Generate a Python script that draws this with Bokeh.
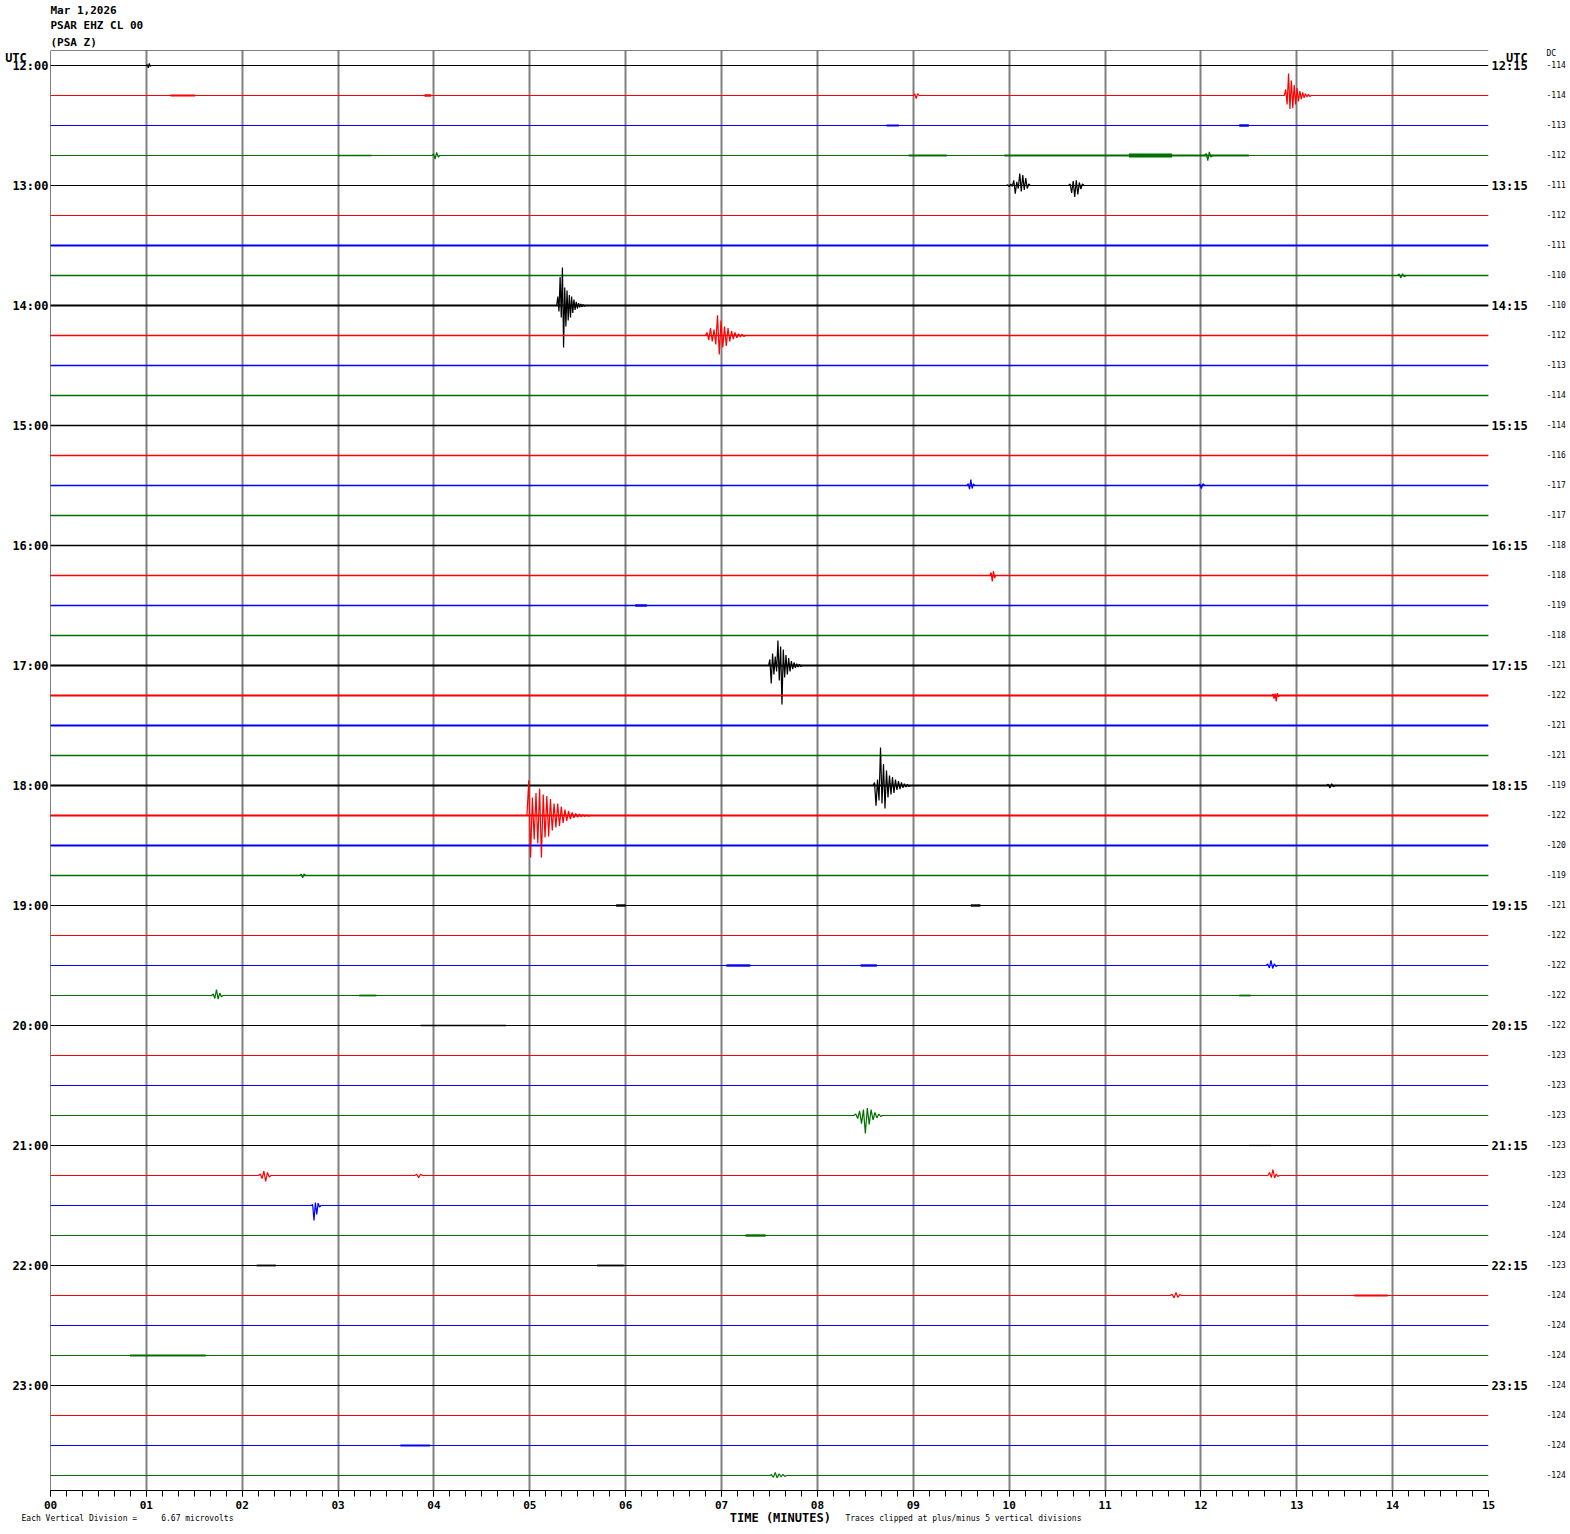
from bokeh.plotting import figure
from bokeh.models import Range1d, FixedTicker, LinearAxis, Span, ColumnDataSource, Title
from bokeh.embed import file_html
from bokeh.resources import INLINE

# ---------------- data ----------------
header_lines = ["Mar 1,2026", "PSAR EHZ CL 00", "(PSA Z)"]
trace_colors = ["#000000", "#ff0000", "#0000ff", "#006f00"]
left_hours = ["12:00", "13:00", "14:00", "15:00", "16:00", "17:00",
              "18:00", "19:00", "20:00", "21:00", "22:00", "23:00"]
right_hours = ["12:15", "13:15", "14:15", "15:15", "16:15", "17:15",
               "18:15", "19:15", "20:15", "21:15", "22:15", "23:15"]
minute_labels = ["00", "01", "02", "03", "04", "05", "06", "07",
                 "08", "09", "10", "11", "12", "13", "14", "15"]
dc_values = [-114, -114, -113, -112, -111, -112, -111, -110, -110, -112, -113, -114,
             -114, -116, -117, -117, -118, -118, -119, -118, -121, -122, -121, -121,
             -119, -122, -120, -119, -121, -122, -122, -122, -122, -123, -123, -123,
             -123, -123, -124, -124, -123, -124, -124, -124, -124, -124, -124, -124]
x_title = "TIME (MINUTES)"
footnote_left = "Each Vertical Division =\u00a0\u00a0\u00a0\u00a0\u00a06.67 microvolts"
footnote_right = "Traces clipped at plus/minus 5 vertical divisions"
# background noise half-width of each trace (trace-spacing units)
noise_level = [0, 0, 0, 0, 0, 0.006,
               0.03, 0.026, 0.03, 0.026, 0.026, 0.022, 0.026, 0.022, 0.022, 0.022, 0.026,
               0.022, 0.022, 0.022, 0.03, 0.03, 0.03, 0.026, 0.03, 0.03, 0.033, 0.026,
               0, 0, 0.006, 0, 0, 0, 0, 0, 0, 0, 0, 0, 0, 0, 0.018, 0, 0, 0, 0, 0]
# noise bursts: (trace, start minute, end minute, half-width)
bursts = [
    (1, 1.25, 1.51, 0.03), (1, 3.90, 3.97, 0.04),
    (2, 8.72, 8.85, 0.03), (2, 12.40, 12.50, 0.04), (2, 12.95, 13.40, 0.02),
    (3, 3.00, 3.35, 0.025), (3, 8.95, 9.35, 0.03), (3, 9.95, 12.50, 0.03), (3, 11.25, 11.70, 0.065),
    (4, 9.30, 10.90, 0.015),
    (18, 6.10, 6.22, 0.04),
    (28, 5.90, 6.00, 0.04), (28, 9.60, 9.70, 0.04),
    (30, 7.05, 7.30, 0.04), (30, 8.45, 8.62, 0.04),
    (31, 3.22, 3.40, 0.03), (31, 12.40, 12.52, 0.03),
    (32, 1.10, 1.56, 0.02), (32, 3.86, 4.75, 0.025),
    (33, 1.67, 1.98, 0.02), (33, 9.20, 10.10, 0.02), (33, 14.00, 14.60, 0.02),
    (34, 4.75, 5.15, 0.02), (34, 9.50, 9.85, 0.02),
    (36, 12.50, 12.75, 0.02),
    (39, 7.25, 7.46, 0.04),
    (40, 2.15, 2.35, 0.03), (40, 5.70, 5.98, 0.03),
    (41, 13.60, 13.95, 0.03),
    (43, 0.83, 1.62, 0.03),
    (46, 3.65, 3.96, 0.035),
]
# wave trains: (trace, start minute, end minute, signed amplitudes)
events = [
    (0, 1.00, 1.05, [0.03, -0.08, 0.07, -0.03]),
    (1, 9.00, 9.06, [0.05, -0.10, 0.06]),
    (1, 12.87, 13.15, [0.20, -0.30, 0.73, -0.45, 0.50, -0.42, 0.35, -0.30, 0.25, -0.20,
                       0.15, -0.12, 0.10, -0.08, 0.06, -0.05, 0.04, -0.03]),
    (3, 3.98, 4.06, [0.05, -0.12, 0.10, -0.05]),
    (3, 12.04, 12.12, [0.06, -0.17, 0.12, -0.05]),
    (4, 9.97, 10.22, [0.02, -0.04, 0.05, -0.03, 0.17, -0.27, 0.12, -0.10, 0.40, -0.20,
                      0.35, -0.15, 0.25, -0.10, 0.05]),
    (4, 10.62, 10.78, [0.05, -0.25, 0.15, -0.38, 0.17, -0.30, 0.10, -0.12, 0.05]),
    (7, 14.05, 14.14, [0.05, -0.08, 0.06, -0.04]),
    (8, 5.28, 5.58, [0.30, -0.20, 0.95, -0.40, 1.27, -1.40, 0.60, -0.70, 0.50, -0.50,
                     0.35, -0.40, 0.30, -0.25, 0.20, -0.15, 0.12, -0.10, 0.08, -0.06,
                     0.05, -0.04, 0.03, -0.02]),
    (9, 6.83, 7.25, [0.10, -0.15, 0.25, -0.20, 0.20, -0.30, 0.67, -0.63, 0.50, -0.40,
                     0.30, -0.35, 0.25, -0.20, 0.15, -0.12, 0.10, -0.08, 0.06, -0.05,
                     0.04, -0.03]),
    (14, 9.56, 9.64, [0.06, -0.12, 0.20, -0.10, 0.05]),
    (14, 11.97, 12.04, [0.04, -0.10, 0.06]),
    (17, 9.80, 9.86, [0.10, -0.20, 0.15, -0.08]),
    (20, 7.49, 7.84, [0.20, -0.60, 0.40, -0.30, 0.30, -0.20, 0.83, -0.50, 0.63, -1.30,
                      0.53, -0.40, 0.35, -0.30, 0.25, -0.20, 0.15, -0.12, 0.10, -0.08,
                      0.06, -0.05, 0.04, -0.03]),
    (21, 12.74, 12.82, [0.05, -0.10, 0.06, -0.20, 0.08, -0.04]),
    (24, 8.58, 8.97, [0.10, -0.67, 0.20, -0.50, 1.27, -0.60, 0.72, -0.77, 0.50, -0.40,
                      0.33, -0.30, 0.28, -0.25, 0.20, -0.15, 0.15, -0.12, 0.10, -0.08,
                      0.06, -0.05, 0.04, -0.03]),
    (24, 13.31, 13.40, [0.04, -0.08, 0.06, -0.04]),
    (25, 4.97, 5.63, [1.17, -1.40, 0.60, -0.80, 0.75, -0.93, 0.90, -1.40, 0.70, -0.73,
                      0.65, -0.70, 0.55, -0.50, 0.40, -0.40, 0.40, -0.35, 0.30, -0.25,
                      0.20, -0.18, 0.15, -0.12, 0.10, -0.08, 0.07, -0.06, 0.05, -0.04,
                      0.03, -0.03, 0.02, -0.02]),
    (27, 2.60, 2.66, [0.04, -0.08, 0.05]),
    (30, 12.68, 12.80, [0.05, -0.08, 0.17, -0.10, 0.06, -0.03]),
    (31, 1.68, 1.80, [0.05, -0.10, 0.20, -0.12, 0.08, -0.04]),
    (35, 8.38, 8.68, [0.05, -0.10, 0.15, -0.27, 0.20, -0.60, 0.25, -0.30, 0.20, -0.15,
                      0.10, -0.08, 0.05, -0.03]),
    (37, 2.17, 2.30, [0.05, -0.10, 0.15, -0.20, 0.10, -0.05]),
    (37, 3.80, 3.88, [0.04, -0.07, 0.04]),
    (37, 12.70, 12.82, [0.10, -0.07, 0.20, -0.08, 0.05, -0.03]),
    (38, 2.72, 2.82, [0.03, -0.50, 0.10, -0.30, 0.08, -0.05]),
    (41, 11.68, 11.80, [0.04, -0.08, 0.10, -0.06, 0.03]),
    (47, 7.50, 7.68, [0.03, -0.06, 0.10, -0.08, 0.06, -0.05, 0.04, -0.03]),
]

n_rows = len(dc_values)
t_end = float(len(minute_labels) - 1)

# ---------------- build glyph data ----------------
line_xs, line_ys, line_cols = [], [], []
for k in range(n_rows):
    base = -k
    xs, ys = [0.0], [base]
    for (row, t0, t1, amps) in sorted([e for e in events if e[0] == k], key=lambda e: e[1]):
        xs.append(t0); ys.append(base)
        n = len(amps)
        for i, a in enumerate(amps):
            xs.append(t0 + (t1 - t0) * (i + 1) / (n + 1))
            ys.append(base + a)
        xs.append(t1); ys.append(base)
    xs.append(t_end); ys.append(base)
    line_xs.append(xs); line_ys.append(ys)
    line_cols.append(trace_colors[k % 4])

q = dict(left=[], right=[], bottom=[], top=[], color=[])
for k, h in enumerate(noise_level):
    if h > 0:
        q["left"].append(0.0); q["right"].append(t_end)
        q["bottom"].append(-k - h); q["top"].append(-k + h)
        q["color"].append(trace_colors[k % 4])
for (k, t0, t1, h) in bursts:
    q["left"].append(t0); q["right"].append(t1)
    q["bottom"].append(-k - h); q["top"].append(-k + h)
    q["color"].append(trace_colors[k % 4])

# ---------------- figure ----------------
FW, FH = 1438, 1440
p = figure(frame_width=FW, frame_height=FH,
           x_range=Range1d(0, t_end), y_range=Range1d(-(n_rows - 0.5), 0.5),
           output_backend="svg", toolbar_location=None, title=None,
           min_border_left=50, min_border_top=50, min_border_right=80, min_border_bottom=40)
p.outline_line_color = None
p.background_fill_color = "white"
p.border_fill_color = "white"

p.ygrid.visible = False
p.xgrid.ticker = FixedTicker(ticks=list(range(len(minute_labels))))
p.xgrid.grid_line_color = "#808080"
p.xgrid.grid_line_width = 2
p.xgrid.grid_line_alpha = 1.0

MONO = "DejaVu Sans Mono"
NB = "\u00a0"

# header lines as stacked titles (first added sits closest to the frame)
for j, line in enumerate(reversed(header_lines)):
    p.add_layout(Title(text=line, align="left", text_font=MONO, text_font_size="11px",
                       text_font_style="bold", text_color="black",
                       standoff=4 if j == 0 else 0, text_line_height=1.0), "above")

# bottom minute axis
xa = p.xaxis[0]
xa.ticker = FixedTicker(ticks=list(range(len(minute_labels))),
                        minor_ticks=[i / 6 for i in range(6 * int(t_end) + 1)])
xa.major_label_overrides = {i: lab for i, lab in enumerate(minute_labels)}
xa.major_tick_out = 6; xa.major_tick_in = 0
xa.minor_tick_out = 6; xa.minor_tick_in = 0
xa.axis_line_color = "black"
xa.major_tick_line_color = "black"; xa.minor_tick_line_color = "black"
xa.major_label_text_font = MONO
xa.major_label_text_font_style = "bold"
xa.major_label_text_font_size = "11px"
xa.major_label_text_color = "black"
xa.major_label_standoff = 4
xa.axis_label = NB * 3 + x_title
xa.axis_label_text_font = MONO
xa.axis_label_text_font_style = "bold"
xa.axis_label_text_font_size = "12px"
xa.axis_label_text_color = "black"
xa.axis_label_standoff = -1

# footnotes as a second, label-only bottom axis
foot_pos = [(127 - 50) / (FW / t_end), (963 - 50) / (FW / t_end)]
fa = LinearAxis(ticker=FixedTicker(ticks=foot_pos, minor_ticks=[]),
                major_label_overrides={foot_pos[0]: footnote_left, foot_pos[1]: footnote_right},
                major_tick_out=0, major_tick_in=0, minor_tick_out=0, minor_tick_in=0,
                axis_line_color=None, major_label_text_font=MONO,
                major_label_text_font_size="8px", major_label_text_color="black",
                major_label_standoff=-14)
p.add_layout(fa, "below")

# left hour labels (+ UTC heading)
utc_y = 0.5 - 7 / 30.0
hour_ticks = [-4 * i for i in range(len(left_hours))]
ya = p.yaxis[0]
ya.ticker = FixedTicker(ticks=[utc_y] + hour_ticks, minor_ticks=[])
lo = {t: lab for t, lab in zip(hour_ticks, left_hours)}
lo[utc_y] = "UTC" + NB * 3
ya.major_label_overrides = lo
ya.major_tick_out = 0; ya.major_tick_in = 0
ya.minor_tick_out = 0; ya.minor_tick_in = 0
ya.axis_line_color = None
ya.major_label_text_font = MONO
ya.major_label_text_font_style = "bold"
ya.major_label_text_font_size = "12px"
ya.major_label_text_color = "black"
ya.major_label_standoff = 2

ro = {t: lab for t, lab in zip(hour_ticks, right_hours)}
ro[utc_y] = NB * 2 + "UTC"
ra = LinearAxis(ticker=FixedTicker(ticks=[utc_y] + hour_ticks, minor_ticks=[]),
                major_label_overrides=ro,
                major_tick_out=0, major_tick_in=0, minor_tick_out=0, minor_tick_in=0,
                axis_line_color=None, major_label_text_font=MONO,
                major_label_text_font_style="bold", major_label_text_font_size="12px",
                major_label_text_color="black", major_label_standoff=3)
p.add_layout(ra, "right")

dc_y = 0.5 - 3 / 30.0
row_ticks = [-k for k in range(n_rows)]
do = {t: str(v) for t, v in zip(row_ticks, dc_values)}
do[dc_y] = "DC"
da = LinearAxis(ticker=FixedTicker(ticks=[dc_y] + row_ticks, minor_ticks=[]),
                major_label_overrides=do,
                major_tick_out=0, major_tick_in=0, minor_tick_out=0, minor_tick_in=0,
                axis_line_color=None, major_label_text_font=MONO,
                major_label_text_font_size="8px",
                major_label_text_color="black", major_label_standoff=16)
p.add_layout(da, "right")

# traces
p.quad(left="left", right="right", bottom="bottom", top="top", color="color",
       line_color=None, source=ColumnDataSource(q))
p.multi_line(xs=line_xs, ys=line_ys, line_color=line_cols, line_width=1.2)

# frame edges
p.add_layout(Span(location=0, dimension="height", line_color="black", line_width=1))
p.add_layout(Span(location=0.5, dimension="width", line_color="black", line_width=1))

open("out.html", "w").write(file_html(p, INLINE))
